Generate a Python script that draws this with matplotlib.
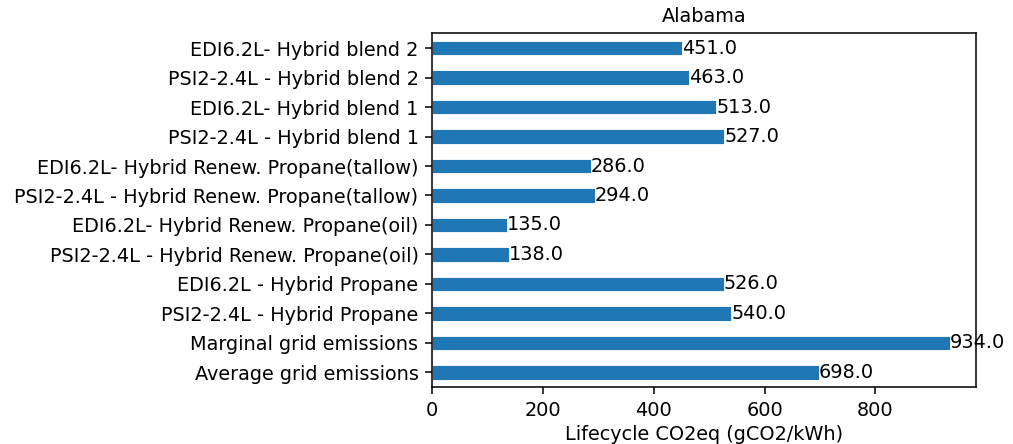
import matplotlib
matplotlib.use("Agg")
import matplotlib.pyplot as plt
import pandas as pd

# categories, bottom to top (as barh draws them)
labels = [
    "Average grid emissions",
    "Marginal grid emissions",
    "PSI2-2.4L - Hybrid Propane",
    "EDI6.2L - Hybrid Propane",
    "PSI2-2.4L - Hybrid Renew. Propane(oil)",
    "EDI6.2L- Hybrid Renew. Propane(oil)",
    "PSI2-2.4L - Hybrid Renew. Propane(tallow)",
    "EDI6.2L- Hybrid Renew. Propane(tallow)",
    "PSI2-2.4L - Hybrid blend 1",
    "EDI6.2L- Hybrid blend 1",
    "PSI2-2.4L - Hybrid blend 2",
    "EDI6.2L- Hybrid blend 2",
]
values = [698.0, 934.0, 540.0, 526.0, 138.0, 135.0, 294.0, 286.0, 527.0, 513.0, 463.0, 451.0]

# original looks like a 10pt figure saved at ~139 dpi
s = 1.39
plt.rcParams.update({
    "font.size": 10 * s,
    "axes.linewidth": 0.8 * s,
    "xtick.major.size": 3.5 * s,
    "ytick.major.size": 3.5 * s,
    "xtick.major.width": 0.8 * s,
    "ytick.major.width": 0.8 * s,
    "xtick.major.pad": 3.5 * s,
    "ytick.major.pad": 3.5 * s,
})

df = pd.Series(values, index=labels)

fig = plt.figure(figsize=(10.13, 4.44), dpi=100)
ax = fig.add_axes([0.4265, 0.128, 0.5365, 0.797])
df.plot.barh(ax=ax, color="#1f77b4", edgecolor="white", linewidth=0.6)
ax.bar_label(ax.containers[0], fmt="%.1f")
ax.set_title("Alabama", fontsize=10 * s, pad=6 * s)
ax.set_xlabel("Lifecycle CO2eq (gCO2/kWh)")

fig.savefig("out.png", dpi=100)
